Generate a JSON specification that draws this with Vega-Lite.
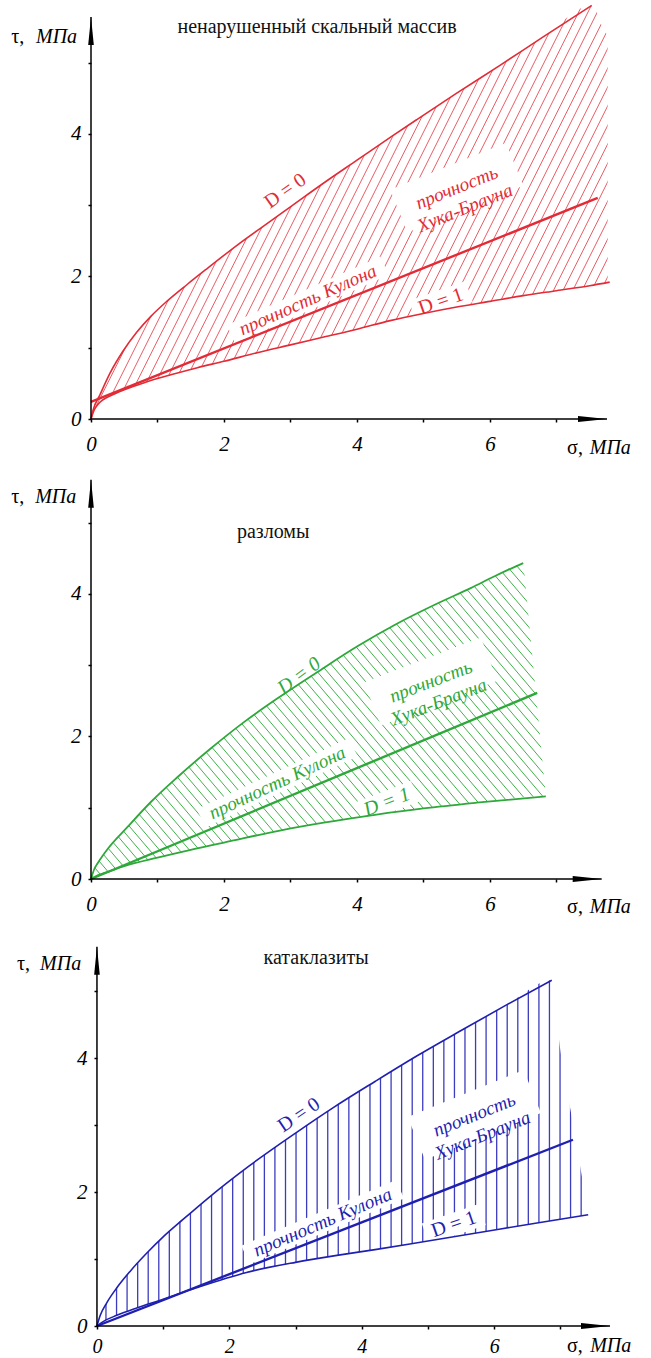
{
"$schema": "https://vega.github.io/schema/vega-lite/v6.json",
"background": "white",
"padding": {"left": 11, "top": 2, "right": 2, "bottom": 0},
"config": {"view": {"stroke": null}},
"bounds": "flush",
"spacing": 66,
"datasets": {
"c1": [
{"c":"D0","x":0,"y":0},{"c":"D0","x":0.03,"y":0.12},{"c":"D0","x":0.135,"y":0.34},{"c":"D0","x":0.29,"y":0.65},{"c":"D0","x":0.48,"y":0.95},{"c":"D0","x":0.69,"y":1.22},{"c":"D0","x":0.9,"y":1.44},{"c":"D0","x":1.14,"y":1.65},{"c":"D0","x":1.45,"y":1.89},{"c":"D0","x":1.76,"y":2.12},{"c":"D0","x":2.2,"y":2.44},{"c":"D0","x":2.6,"y":2.71},{"c":"D0","x":3.02,"y":2.99},{"c":"D0","x":3.5,"y":3.31},{"c":"D0","x":4.0,"y":3.63},{"c":"D0","x":4.5,"y":3.95},{"c":"D0","x":4.9,"y":4.2},{"c":"D0","x":5.5,"y":4.57},{"c":"D0","x":6.15,"y":4.96},{"c":"D0","x":6.8,"y":5.36},{"c":"D0","x":7.53,"y":5.8},
{"c":"T","x":7.77,"y":5.4},{"c":"T","x":7.85,"y":5.4},
{"c":"D1","x":0,"y":0},{"c":"D1","x":0.05,"y":0.13},{"c":"D1","x":0.1,"y":0.2},{"c":"D1","x":0.18,"y":0.27},{"c":"D1","x":0.3,"y":0.33},{"c":"D1","x":0.5,"y":0.41},{"c":"D1","x":0.8,"y":0.51},{"c":"D1","x":1.2,"y":0.62},{"c":"D1","x":1.6,"y":0.72},{"c":"D1","x":2.0,"y":0.81},{"c":"D1","x":2.5,"y":0.93},{"c":"D1","x":3.0,"y":1.04},{"c":"D1","x":3.5,"y":1.15},{"c":"D1","x":4.0,"y":1.26},{"c":"D1","x":4.5,"y":1.38},{"c":"D1","x":5.0,"y":1.48},{"c":"D1","x":5.5,"y":1.57},{"c":"D1","x":6.0,"y":1.65},{"c":"D1","x":6.5,"y":1.73},{"c":"D1","x":7.0,"y":1.8},{"c":"D1","x":7.5,"y":1.87},{"c":"D1","x":7.8,"y":1.92},
{"c":"B","x":7.85,"y":1.93}
],
"c2": [
{"c":"D0","x":0,"y":0},{"c":"D0","x":0.05,"y":0.14},{"c":"D0","x":0.1,"y":0.22},{"c":"D0","x":0.25,"y":0.42},{"c":"D0","x":0.54,"y":0.72},{"c":"D0","x":0.9,"y":1.08},{"c":"D0","x":1.29,"y":1.42},{"c":"D0","x":1.8,"y":1.83},{"c":"D0","x":2.3,"y":2.2},{"c":"D0","x":2.8,"y":2.53},{"c":"D0","x":3.4,"y":2.9},{"c":"D0","x":4.0,"y":3.26},{"c":"D0","x":4.6,"y":3.58},{"c":"D0","x":5.2,"y":3.86},{"c":"D0","x":5.71,"y":4.08},{"c":"D0","x":6.1,"y":4.26},{"c":"D0","x":6.5,"y":4.43},
{"c":"T","x":7.85,"y":4.43},
{"c":"D1","x":0,"y":0},{"c":"D1","x":0.1,"y":0.05},{"c":"D1","x":0.25,"y":0.1},{"c":"D1","x":0.5,"y":0.18},{"c":"D1","x":1.0,"y":0.3},{"c":"D1","x":1.5,"y":0.41},{"c":"D1","x":2.0,"y":0.51},{"c":"D1","x":2.84,"y":0.68},{"c":"D1","x":3.5,"y":0.79},{"c":"D1","x":4.27,"y":0.9},{"c":"D1","x":5.0,"y":0.99},{"c":"D1","x":5.8,"y":1.07},{"c":"D1","x":6.84,"y":1.16},
{"c":"B","x":7.85,"y":1.16}
],
"c3": [
{"c":"D0","x":0,"y":0},{"c":"D0","x":0.05,"y":0.16},{"c":"D0","x":0.15,"y":0.35},{"c":"D0","x":0.3,"y":0.57},{"c":"D0","x":0.5,"y":0.815},{"c":"D0","x":0.75,"y":1.085},{"c":"D0","x":1.0,"y":1.33},{"c":"D0","x":1.3,"y":1.59},{"c":"D0","x":1.68,"y":1.91},{"c":"D0","x":2.3,"y":2.39},{"c":"D0","x":3.0,"y":2.88},{"c":"D0","x":3.57,"y":3.26},{"c":"D0","x":4.2,"y":3.65},{"c":"D0","x":4.83,"y":4.03},{"c":"D0","x":5.5,"y":4.41},{"c":"D0","x":6.2,"y":4.8},{"c":"D0","x":6.87,"y":5.16},
{"c":"T","x":6.995,"y":4.15},{"c":"T","x":7.154,"y":3.22},{"c":"T","x":7.314,"y":2.3},{"c":"T","x":7.5,"y":1.2},{"c":"T","x":7.7,"y":0},{"c":"T","x":7.795,"y":0},
{"c":"D1","x":0,"y":0},{"c":"D1","x":0.1,"y":0.07},{"c":"D1","x":0.3,"y":0.16},{"c":"D1","x":0.6,"y":0.27},{"c":"D1","x":1.0,"y":0.4},{"c":"D1","x":1.5,"y":0.57},{"c":"D1","x":2.26,"y":0.8},{"c":"D1","x":3.0,"y":0.95},{"c":"D1","x":3.6,"y":1.05},{"c":"D1","x":4.2,"y":1.14},{"c":"D1","x":5.0,"y":1.27},{"c":"D1","x":5.8,"y":1.4},{"c":"D1","x":6.6,"y":1.53},{"c":"D1","x":7.42,"y":1.66},
{"c":"B","x":7.795,"y":1.7}
],
"h1": [
{"a":-0.16,"b":2.98},{"a":-0.02,"b":3.12},{"a":0.13,"b":3.26},{"a":0.27,"b":3.40},{"a":0.41,"b":3.55},{"a":0.56,"b":3.69},{"a":0.70,"b":3.83},{"a":0.84,"b":3.98},{"a":0.98,"b":4.12},{"a":1.13,"b":4.26},{"a":1.27,"b":4.41},{"a":1.41,"b":4.55},{"a":1.56,"b":4.69},{"a":1.70,"b":4.83},{"a":1.84,"b":4.98},{"a":1.99,"b":5.12},{"a":2.13,"b":5.26},{"a":2.27,"b":5.41},{"a":2.41,"b":5.55},{"a":2.56,"b":5.69},{"a":2.70,"b":5.84},{"a":2.84,"b":5.98},{"a":2.99,"b":6.12},{"a":3.13,"b":6.26},{"a":3.27,"b":6.41},{"a":3.42,"b":6.55},{"a":3.56,"b":6.69},{"a":3.70,"b":6.84},{"a":3.84,"b":6.98},{"a":3.99,"b":7.12},{"a":4.13,"b":7.27},{"a":4.27,"b":7.41},{"a":4.42,"b":7.55},{"a":4.56,"b":7.69},{"a":4.70,"b":7.84},{"a":4.85,"b":7.98},{"a":4.99,"b":8.12},{"a":5.13,"b":8.27},{"a":5.27,"b":8.41},{"a":5.42,"b":8.55},{"a":5.56,"b":8.70},{"a":5.70,"b":8.84},{"a":5.85,"b":8.98},{"a":5.99,"b":9.12},{"a":6.13,"b":9.27},{"a":6.28,"b":9.41},{"a":6.42,"b":9.55},{"a":6.56,"b":9.70},{"a":6.70,"b":9.84}
],
"h2": [
{"a":0.05,"b":-4.98},{"a":0.2,"b":-4.83},{"a":0.35,"b":-4.68},{"a":0.5,"b":-4.53},{"a":0.65,"b":-4.38},{"a":0.8,"b":-4.23},{"a":0.95,"b":-4.08},{"a":1.1,"b":-3.93},{"a":1.25,"b":-3.78},{"a":1.4,"b":-3.63},{"a":1.55,"b":-3.48},{"a":1.7,"b":-3.33},{"a":1.85,"b":-3.18},{"a":2.0,"b":-3.03},{"a":2.15,"b":-2.88},{"a":2.3,"b":-2.73},{"a":2.45,"b":-2.58},{"a":2.6,"b":-2.43},{"a":2.75,"b":-2.28},{"a":2.9,"b":-2.13},{"a":3.05,"b":-1.98},{"a":3.2,"b":-1.83},{"a":3.35,"b":-1.68},{"a":3.5,"b":-1.53},{"a":3.65,"b":-1.38},{"a":3.8,"b":-1.23},{"a":3.95,"b":-1.08},{"a":4.1,"b":-0.93},{"a":4.25,"b":-0.78},{"a":4.4,"b":-0.63},{"a":4.55,"b":-0.48},{"a":4.7,"b":-0.33},{"a":4.85,"b":-0.18},{"a":5.0,"b":-0.03},{"a":5.15,"b":0.12},{"a":5.3,"b":0.27},{"a":5.45,"b":0.42},{"a":5.6,"b":0.57},{"a":5.75,"b":0.72},{"a":5.9,"b":0.87},{"a":6.05,"b":1.02},{"a":6.2,"b":1.17},{"a":6.35,"b":1.32},{"a":6.5,"b":1.47},{"a":6.65,"b":1.62},{"a":6.8,"b":1.77},{"a":6.95,"b":1.92},{"a":7.1,"b":2.07},{"a":7.25,"b":2.22},{"a":7.4,"b":2.37},{"a":7.55,"b":2.52},{"a":7.7,"b":2.67},{"a":7.85,"b":2.82},{"a":8.0,"b":2.97},{"a":8.15,"b":3.12},{"a":8.3,"b":3.27},{"a":8.45,"b":3.42},{"a":8.6,"b":3.57},{"a":8.75,"b":3.72},{"a":8.9,"b":3.87},{"a":9.05,"b":4.02},{"a":9.2,"b":4.17},{"a":9.35,"b":4.32},{"a":9.5,"b":4.47},{"a":9.65,"b":4.62},{"a":9.8,"b":4.77},{"a":9.95,"b":4.92},{"a":10.1,"b":5.07},{"a":10.25,"b":5.22},{"a":10.4,"b":5.37},{"a":10.55,"b":5.52}
],
"h3": [
{"x":0.136},{"x":0.296},{"x":0.455},{"x":0.615},{"x":0.774},{"x":0.934},{"x":1.093},{"x":1.253},{"x":1.412},{"x":1.572},{"x":1.731},{"x":1.891},{"x":2.05},{"x":2.21},{"x":2.369},{"x":2.529},{"x":2.688},{"x":2.848},{"x":3.007},{"x":3.167},{"x":3.326},{"x":3.486},{"x":3.645},{"x":3.805},{"x":3.964},{"x":4.124},{"x":4.283},{"x":4.443},{"x":4.602},{"x":4.762},{"x":4.921},{"x":5.081},{"x":5.24},{"x":5.4},{"x":5.559},{"x":5.719},{"x":5.878},{"x":6.038},{"x":6.197},{"x":6.357},{"x":6.516},{"x":6.676},{"x":6.835},{"x":6.995},{"x":7.154},{"x":7.314}
]
},
"vconcat": [
{
"width": 522, "height": 417,
"layer": [
{"data": {"name": "h1"}, "mark": {"type": "rule", "clip": true, "color": "#e64a55", "strokeWidth": 0.9},
 "encoding": {"x": {"field": "a", "type": "quantitative", "axis": {"title": null}}, "x2": {"field": "b"}, "y": {"datum": 0, "type": "quantitative", "axis": {"title": null}}, "y2": {"datum": 5.849}}},
{"data": {"name": "c1"}, "transform": [{"filter": "datum.c === 'D0' || datum.c === 'T'"}], "mark": {"type": "area", "color": "white", "opacity": 1, "interpolate": "monotone"},
 "encoding": {"x": {"field": "x", "type": "quantitative", "axis": {"title": null}}, "y": {"field": "y", "type": "quantitative", "axis": {"title": null}}, "y2": {"datum": 5.849}}},
{"data": {"name": "c1"}, "transform": [{"filter": "datum.c === 'D1' || datum.c === 'B'"}], "mark": {"type": "area", "color": "white", "opacity": 1, "interpolate": "monotone"},
 "encoding": {"x": {"field": "x", "type": "quantitative", "axis": {"title": null}}, "y": {"field": "y", "type": "quantitative", "axis": {"title": null}}, "y2": {"datum": 0}}},
{"data": {"values": [{"a": 7.77, "b": 7.85}]}, "mark": {"type": "rect", "color": "white", "opacity": 1},
 "encoding": {"x": {"field": "a", "type": "quantitative", "axis": {"title": null}}, "x2": {"field": "b"}, "y": {"datum": 0, "type": "quantitative", "axis": {"title": null}}, "y2": {"datum": 5.849}}},
{"data": {"values": [{"x": 3.26, "y": 1.67}]}, "mark": {"type": "point", "shape": "M-1,-0.12L1,-0.12L1,0.12L-1,0.12Z", "size": 28224, "angle": -24, "filled": true, "color": "white", "opacity": 1, "strokeWidth": 0},
 "encoding": {"x": {"field": "x", "type": "quantitative", "axis": {"title": null}}, "y": {"field": "y", "type": "quantitative", "axis": {"title": null}}}},
{"data": {"values": [{"x": 5.26, "y": 1.65}]}, "mark": {"type": "point", "shape": "M-1,-0.37L1,-0.37L1,0.37L-1,0.37Z", "size": 3600, "angle": -19, "filled": true, "color": "white", "opacity": 1, "strokeWidth": 0},
 "encoding": {"x": {"field": "x", "type": "quantitative", "axis": {"title": null}}, "y": {"field": "y", "type": "quantitative", "axis": {"title": null}}}},
{"data": {"values": [{"x": 5.5, "y": 3.245}]}, "mark": {"type": "point", "shape": "M-1,-0.37L1,-0.37L1,0.37L-1,0.37Z", "size": 15625, "angle": -22, "filled": true, "color": "white", "opacity": 1, "strokeWidth": 0},
 "encoding": {"x": {"field": "x", "type": "quantitative", "axis": {"title": null}}, "y": {"field": "y", "type": "quantitative", "axis": {"title": null}}}},
{"data": {"name": "c1"}, "transform": [{"filter": "datum.c === 'D0' || datum.c === 'D1'"}], "mark": {"type": "line", "color": "#e22b36", "strokeWidth": 1.6, "interpolate": "monotone"},
 "encoding": {"x": {"field": "x", "type": "quantitative", "axis": {"title": null}}, "y": {"field": "y", "type": "quantitative", "axis": {"title": null}}, "detail": {"field": "c"}}},
{"data": {"values": [{"x": 0, "y": 0.24}, {"x": 7.62, "y": 3.1}]}, "mark": {"type": "line", "color": "#e22b36", "strokeWidth": 2.4},
 "encoding": {"x": {"field": "x", "type": "quantitative", "axis": {"title": null}}, "y": {"field": "y", "type": "quantitative", "axis": {"title": null}}}},
{"data": {"values": [{"x": 0, "y": 0, "x2": 7.76, "y2": 0}, {"x": 0, "y": 0, "x2": 0, "y2": 5.64}]}, "mark": {"type": "rule", "color": "#000", "strokeWidth": 1.5},
 "encoding": {
  "x": {"field": "x", "type": "quantitative", "scale": {"domain": [0, 7.85], "nice": false, "zero": false},
   "axis": {"title": null, "domain": false, "grid": false, "values": [0,1,2,3,4,5,6,7], "format": "d", "labelExpr": "datum.value % 2 === 0 ? datum.label : ''", "tickSize": 3, "tickWidth": 1.5, "tickColor": "#000", "labelFont": "Liberation Serif", "labelFontStyle": "italic", "labelFontSize": 21, "labelColor": "#000", "labelPadding": 11, "labelOverlap": false, "labelFlush": false, "labelBound": false, "zindex": 1}},
  "x2": {"field": "x2"},
  "y": {"field": "y", "type": "quantitative", "scale": {"domain": [0, 5.849], "nice": false, "zero": false},
   "axis": {"title": null, "domain": false, "grid": false, "values": [0,1,2,3,4,5], "format": "d", "labelExpr": "datum.value % 2 === 0 ? datum.label : ''", "tickSize": 3, "tickWidth": 1.5, "tickColor": "#000", "labelFont": "Liberation Serif", "labelFontStyle": "italic", "labelFontSize": 21, "labelColor": "#000", "labelPadding": 7, "labelOverlap": false, "labelFlush": false, "labelBound": false, "zindex": 1}},
  "y2": {"field": "y2"}}},
{"data": {"values": [{"x": 7.76, "y": 0}]}, "mark": {"type": "point", "shape": "M0,0L-2,-0.2L-2,0.2Z", "size": 841, "filled": true, "color": "#000", "opacity": 1, "strokeWidth": 0},
 "encoding": {"x": {"field": "x", "type": "quantitative", "axis": {"title": null}}, "y": {"field": "y", "type": "quantitative", "axis": {"title": null}}}},
{"data": {"values": [{"x": 0, "y": 5.64}]}, "mark": {"type": "point", "shape": "M0,0L-0.2,2L0.2,2Z", "size": 784, "filled": true, "color": "#000", "opacity": 1, "strokeWidth": 0},
 "encoding": {"x": {"field": "x", "type": "quantitative", "axis": {"title": null}}, "y": {"field": "y", "type": "quantitative", "axis": {"title": null}}}},
{"data": {"values": [{"x": 3.4, "y": 5.5, "t": "ненарушенный скальный массив"}]}, "mark": {"type": "text", "font": "Liberation Serif", "fontSize": 20, "color": "#111", "align": "center", "baseline": "middle"},
 "encoding": {"x": {"field": "x", "type": "quantitative", "axis": {"title": null}}, "y": {"field": "y", "type": "quantitative", "axis": {"title": null}}, "text": {"field": "t", "type": "nominal"}}},
{"data": {"values": [{"x": -1.2, "y": 5.27, "t": "τ,"}, {"x": 7.16, "y": -0.49, "t": "σ,"}]}, "mark": {"type": "text", "font": "Liberation Serif", "fontSize": 20, "color": "#000", "align": "left", "baseline": "alphabetic"},
 "encoding": {"x": {"field": "x", "type": "quantitative", "axis": {"title": null}}, "y": {"field": "y", "type": "quantitative", "axis": {"title": null}}, "text": {"field": "t", "type": "nominal"}}},
{"data": {"values": [{"x": -0.827, "y": 5.27, "t": "МПа"}, {"x": 7.5, "y": -0.49, "t": "МПа"}]}, "mark": {"type": "text", "font": "Liberation Serif", "fontSize": 20, "fontStyle": "italic", "color": "#000", "align": "left", "baseline": "alphabetic"},
 "encoding": {"x": {"field": "x", "type": "quantitative", "axis": {"title": null}}, "y": {"field": "y", "type": "quantitative", "axis": {"title": null}}, "text": {"field": "t", "type": "nominal"}}},
{"data": {"values": [{"x": 2.92, "y": 3.2, "t": "D = 0"}]}, "mark": {"type": "text", "font": "Liberation Serif", "fontSize": 20, "color": "#e22b36", "align": "center", "baseline": "middle", "angle": -35},
 "encoding": {"x": {"field": "x", "type": "quantitative", "axis": {"title": null}}, "y": {"field": "y", "type": "quantitative", "axis": {"title": null}}, "text": {"field": "t", "type": "nominal"}}},
{"data": {"values": [{"x": 3.26, "y": 1.67, "t": "прочность Кулона"}]}, "mark": {"type": "text", "font": "Liberation Serif", "fontSize": 19, "fontStyle": "italic", "color": "#e22b36", "align": "center", "baseline": "middle", "angle": -24},
 "encoding": {"x": {"field": "x", "type": "quantitative", "axis": {"title": null}}, "y": {"field": "y", "type": "quantitative", "axis": {"title": null}}, "text": {"field": "t", "type": "nominal"}}},
{"data": {"values": [{"x": 5.26, "y": 1.65, "t": "D = 1"}]}, "mark": {"type": "text", "font": "Liberation Serif", "fontSize": 20, "color": "#e22b36", "align": "center", "baseline": "middle", "angle": -19},
 "encoding": {"x": {"field": "x", "type": "quantitative", "axis": {"title": null}}, "y": {"field": "y", "type": "quantitative", "axis": {"title": null}}, "text": {"field": "t", "type": "nominal"}}},
{"data": {"values": [{"x": 5.5, "y": 3.245, "t": "прочность\nХука-Брауна"}]}, "mark": {"type": "text", "font": "Liberation Serif", "fontSize": 19, "fontStyle": "italic", "color": "#e22b36", "align": "center", "baseline": "middle", "angle": -22, "lineBreak": "\n", "lineHeight": 22},
 "encoding": {"x": {"field": "x", "type": "quantitative", "axis": {"title": null}}, "y": {"field": "y", "type": "quantitative", "axis": {"title": null}}, "text": {"field": "t", "type": "nominal"}}}
]
},
{
"width": 522, "height": 394,
"layer": [
{"data": {"name": "h2"}, "mark": {"type": "rule", "clip": true, "color": "#43b04c", "strokeWidth": 1},
 "encoding": {"x": {"field": "a", "type": "quantitative", "axis": {"title": null}}, "x2": {"field": "b"}, "y": {"datum": 0, "type": "quantitative", "axis": {"title": null}}, "y2": {"datum": 5.526}}},
{"data": {"name": "c2"}, "transform": [{"filter": "datum.c === 'D0' || datum.c === 'T'"}], "mark": {"type": "area", "color": "white", "opacity": 1, "interpolate": "monotone"},
 "encoding": {"x": {"field": "x", "type": "quantitative", "axis": {"title": null}}, "y": {"field": "y", "type": "quantitative", "axis": {"title": null}}, "y2": {"datum": 5.526}}},
{"data": {"name": "c2"}, "transform": [{"filter": "datum.c === 'D1' || datum.c === 'B'"}], "mark": {"type": "area", "color": "white", "opacity": 1, "interpolate": "monotone"},
 "encoding": {"x": {"field": "x", "type": "quantitative", "axis": {"title": null}}, "y": {"field": "y", "type": "quantitative", "axis": {"title": null}}, "y2": {"datum": 0}}},
{"data": {"values": [{"y": 0, "x": 6.96}, {"y": 5.526, "x": 6.39}]}, "mark": {"type": "area", "orient": "horizontal", "color": "white", "opacity": 1},
 "encoding": {"y": {"field": "y", "type": "quantitative", "axis": {"title": null}}, "x": {"field": "x", "type": "quantitative", "axis": {"title": null}}, "x2": {"datum": 7.85}}},
{"data": {"values": [{"x": 2.8, "y": 1.35}]}, "mark": {"type": "point", "shape": "M-1,-0.12L1,-0.12L1,0.12L-1,0.12Z", "size": 28224, "angle": -25, "filled": true, "color": "white", "opacity": 1, "strokeWidth": 0},
 "encoding": {"x": {"field": "x", "type": "quantitative", "axis": {"title": null}}, "y": {"field": "y", "type": "quantitative", "axis": {"title": null}}}},
{"data": {"values": [{"x": 4.45, "y": 1.08}]}, "mark": {"type": "point", "shape": "M-1,-0.37L1,-0.37L1,0.37L-1,0.37Z", "size": 3600, "angle": -21, "filled": true, "color": "white", "opacity": 1, "strokeWidth": 0},
 "encoding": {"x": {"field": "x", "type": "quantitative", "axis": {"title": null}}, "y": {"field": "y", "type": "quantitative", "axis": {"title": null}}}},
{"data": {"values": [{"x": 5.11, "y": 2.77}]}, "mark": {"type": "point", "shape": "M-1,-0.37L1,-0.37L1,0.37L-1,0.37Z", "size": 15625, "angle": -21, "filled": true, "color": "white", "opacity": 1, "strokeWidth": 0},
 "encoding": {"x": {"field": "x", "type": "quantitative", "axis": {"title": null}}, "y": {"field": "y", "type": "quantitative", "axis": {"title": null}}}},
{"data": {"name": "c2"}, "transform": [{"filter": "datum.c === 'D0' || datum.c === 'D1'"}], "mark": {"type": "line", "color": "#2ea83a", "strokeWidth": 1.8, "interpolate": "monotone"},
 "encoding": {"x": {"field": "x", "type": "quantitative", "axis": {"title": null}}, "y": {"field": "y", "type": "quantitative", "axis": {"title": null}}, "detail": {"field": "c"}}},
{"data": {"values": [{"x": 0, "y": 0}, {"x": 6.71, "y": 2.61}]}, "mark": {"type": "line", "color": "#2ea83a", "strokeWidth": 2.4},
 "encoding": {"x": {"field": "x", "type": "quantitative", "axis": {"title": null}}, "y": {"field": "y", "type": "quantitative", "axis": {"title": null}}}},
{"data": {"values": [{"x": 0, "y": 0, "x2": 7.68, "y2": 0}, {"x": 0, "y": 0, "x2": 0, "y2": 5.6}]}, "mark": {"type": "rule", "color": "#000", "strokeWidth": 1.5},
 "encoding": {
  "x": {"field": "x", "type": "quantitative", "scale": {"domain": [0, 7.85], "nice": false, "zero": false},
   "axis": {"title": null, "domain": false, "grid": false, "values": [0,1,2,3,4,5,6,7], "format": "d", "labelExpr": "datum.value % 2 === 0 ? datum.label : ''", "tickSize": 3, "tickWidth": 1.5, "tickColor": "#000", "labelFont": "Liberation Serif", "labelFontStyle": "italic", "labelFontSize": 21, "labelColor": "#000", "labelPadding": 11, "labelOverlap": false, "labelFlush": false, "labelBound": false, "zindex": 1}},
  "x2": {"field": "x2"},
  "y": {"field": "y", "type": "quantitative", "scale": {"domain": [0, 5.526], "nice": false, "zero": false},
   "axis": {"title": null, "domain": false, "grid": false, "values": [0,1,2,3,4,5], "format": "d", "labelExpr": "datum.value % 2 === 0 ? datum.label : ''", "tickSize": 3, "tickWidth": 1.5, "tickColor": "#000", "labelFont": "Liberation Serif", "labelFontStyle": "italic", "labelFontSize": 21, "labelColor": "#000", "labelPadding": 7, "labelOverlap": false, "labelFlush": false, "labelBound": false, "zindex": 1}},
  "y2": {"field": "y2"}}},
{"data": {"values": [{"x": 7.68, "y": 0}]}, "mark": {"type": "point", "shape": "M0,0L-2,-0.2L-2,0.2Z", "size": 841, "filled": true, "color": "#000", "opacity": 1, "strokeWidth": 0},
 "encoding": {"x": {"field": "x", "type": "quantitative", "axis": {"title": null}}, "y": {"field": "y", "type": "quantitative", "axis": {"title": null}}}},
{"data": {"values": [{"x": 0, "y": 5.6}]}, "mark": {"type": "point", "shape": "M0,0L-0.2,2L0.2,2Z", "size": 784, "filled": true, "color": "#000", "opacity": 1, "strokeWidth": 0},
 "encoding": {"x": {"field": "x", "type": "quantitative", "axis": {"title": null}}, "y": {"field": "y", "type": "quantitative", "axis": {"title": null}}}},
{"data": {"values": [{"x": 2.74, "y": 4.87, "t": "разломы"}]}, "mark": {"type": "text", "font": "Liberation Serif", "fontSize": 20, "color": "#111", "align": "center", "baseline": "middle"},
 "encoding": {"x": {"field": "x", "type": "quantitative", "axis": {"title": null}}, "y": {"field": "y", "type": "quantitative", "axis": {"title": null}}, "text": {"field": "t", "type": "nominal"}}},
{"data": {"values": [{"x": -1.2, "y": 5.27, "t": "τ,"}, {"x": 7.16, "y": -0.48, "t": "σ,"}]}, "mark": {"type": "text", "font": "Liberation Serif", "fontSize": 20, "color": "#000", "align": "left", "baseline": "alphabetic"},
 "encoding": {"x": {"field": "x", "type": "quantitative", "axis": {"title": null}}, "y": {"field": "y", "type": "quantitative", "axis": {"title": null}}, "text": {"field": "t", "type": "nominal"}}},
{"data": {"values": [{"x": -0.84, "y": 5.27, "t": "МПа"}, {"x": 7.5, "y": -0.48, "t": "МПа"}]}, "mark": {"type": "text", "font": "Liberation Serif", "fontSize": 20, "fontStyle": "italic", "color": "#000", "align": "left", "baseline": "alphabetic"},
 "encoding": {"x": {"field": "x", "type": "quantitative", "axis": {"title": null}}, "y": {"field": "y", "type": "quantitative", "axis": {"title": null}}, "text": {"field": "t", "type": "nominal"}}},
{"data": {"values": [{"x": 3.13, "y": 2.85, "t": "D = 0"}]}, "mark": {"type": "text", "font": "Liberation Serif", "fontSize": 20, "fontStyle": "italic", "color": "#2ea83a", "align": "center", "baseline": "middle", "angle": -37},
 "encoding": {"x": {"field": "x", "type": "quantitative", "axis": {"title": null}}, "y": {"field": "y", "type": "quantitative", "axis": {"title": null}}, "text": {"field": "t", "type": "nominal"}}},
{"data": {"values": [{"x": 2.8, "y": 1.35, "t": "прочность Кулона"}]}, "mark": {"type": "text", "font": "Liberation Serif", "fontSize": 19, "fontStyle": "italic", "color": "#2ea83a", "align": "center", "baseline": "middle", "angle": -25},
 "encoding": {"x": {"field": "x", "type": "quantitative", "axis": {"title": null}}, "y": {"field": "y", "type": "quantitative", "axis": {"title": null}}, "text": {"field": "t", "type": "nominal"}}},
{"data": {"values": [{"x": 4.45, "y": 1.08, "t": "D = 1"}]}, "mark": {"type": "text", "font": "Liberation Serif", "fontSize": 20, "fontStyle": "italic", "color": "#2ea83a", "align": "center", "baseline": "middle", "angle": -21},
 "encoding": {"x": {"field": "x", "type": "quantitative", "axis": {"title": null}}, "y": {"field": "y", "type": "quantitative", "axis": {"title": null}}, "text": {"field": "t", "type": "nominal"}}},
{"data": {"values": [{"x": 5.11, "y": 2.77, "t": "прочность\nХука-Брауна"}]}, "mark": {"type": "text", "font": "Liberation Serif", "fontSize": 19, "fontStyle": "italic", "color": "#2ea83a", "align": "center", "baseline": "middle", "angle": -21, "lineBreak": "\n", "lineHeight": 22},
 "encoding": {"x": {"field": "x", "type": "quantitative", "axis": {"title": null}}, "y": {"field": "y", "type": "quantitative", "axis": {"title": null}}, "text": {"field": "t", "type": "nominal"}}}
]
},
{
"width": 522, "height": 381,
"layer": [
{"data": {"name": "h3"}, "mark": {"type": "rule", "clip": true, "color": "#3c3cbe", "strokeWidth": 1.3},
 "encoding": {"x": {"field": "x", "type": "quantitative", "axis": {"title": null}}}},
{"data": {"name": "c3"}, "transform": [{"filter": "datum.c === 'D0' || datum.c === 'T'"}], "mark": {"type": "area", "color": "white", "opacity": 1, "interpolate": "monotone"},
 "encoding": {"x": {"field": "x", "type": "quantitative", "axis": {"title": null}}, "y": {"field": "y", "type": "quantitative", "axis": {"title": null}}, "y2": {"datum": 5.687}}},
{"data": {"name": "c3"}, "transform": [{"filter": "datum.c === 'D1' || datum.c === 'B'"}], "mark": {"type": "area", "color": "white", "opacity": 1, "interpolate": "monotone"},
 "encoding": {"x": {"field": "x", "type": "quantitative", "axis": {"title": null}}, "y": {"field": "y", "type": "quantitative", "axis": {"title": null}}, "y2": {"datum": 0}}},
{"data": {"values": [{"x": 3.41, "y": 1.55}]}, "mark": {"type": "point", "shape": "M-1,-0.12L1,-0.12L1,0.12L-1,0.12Z", "size": 28224, "angle": -23, "filled": true, "color": "white", "opacity": 1, "strokeWidth": 0},
 "encoding": {"x": {"field": "x", "type": "quantitative", "axis": {"title": null}}, "y": {"field": "y", "type": "quantitative", "axis": {"title": null}}}},
{"data": {"values": [{"x": 5.39, "y": 1.52}]}, "mark": {"type": "point", "shape": "M-1,-0.37L1,-0.37L1,0.37L-1,0.37Z", "size": 3600, "angle": -19, "filled": true, "color": "white", "opacity": 1, "strokeWidth": 0},
 "encoding": {"x": {"field": "x", "type": "quantitative", "axis": {"title": null}}, "y": {"field": "y", "type": "quantitative", "axis": {"title": null}}}},
{"data": {"values": [{"x": 5.7, "y": 3.15}]}, "mark": {"type": "point", "shape": "M-1,-0.37L1,-0.37L1,0.37L-1,0.37Z", "size": 15625, "angle": -22, "filled": true, "color": "white", "opacity": 1, "strokeWidth": 0},
 "encoding": {"x": {"field": "x", "type": "quantitative", "axis": {"title": null}}, "y": {"field": "y", "type": "quantitative", "axis": {"title": null}}}},
{"data": {"name": "c3"}, "transform": [{"filter": "datum.c === 'D0' || datum.c === 'D1'"}], "mark": {"type": "line", "color": "#1f1fb0", "strokeWidth": 1.6, "interpolate": "monotone"},
 "encoding": {"x": {"field": "x", "type": "quantitative", "axis": {"title": null}}, "y": {"field": "y", "type": "quantitative", "axis": {"title": null}}, "detail": {"field": "c"}}},
{"data": {"values": [{"x": 0, "y": 0}, {"x": 7.19, "y": 2.78}]}, "mark": {"type": "line", "color": "#1f1fb0", "strokeWidth": 2.4},
 "encoding": {"x": {"field": "x", "type": "quantitative", "axis": {"title": null}}, "y": {"field": "y", "type": "quantitative", "axis": {"title": null}}}},
{"data": {"values": [{"x": 0, "y": 0, "x2": 7.75, "y2": 0}, {"x": 0, "y": 0, "x2": 0, "y2": 5.66}]}, "mark": {"type": "rule", "color": "#000", "strokeWidth": 1.5},
 "encoding": {
  "x": {"field": "x", "type": "quantitative", "scale": {"domain": [-0.09, 7.795], "nice": false, "zero": false},
   "axis": {"title": null, "domain": false, "grid": false, "values": [0,1,2,3,4,5,6,7], "format": "d", "labelExpr": "datum.value % 2 === 0 ? datum.label : ''", "tickSize": 3, "tickWidth": 1.5, "tickColor": "#000", "labelFont": "Liberation Serif", "labelFontStyle": "italic", "labelFontSize": 20, "labelColor": "#000", "labelPadding": 7, "labelOverlap": false, "labelFlush": false, "labelBound": false, "zindex": 1}},
  "x2": {"field": "x2"},
  "y": {"field": "y", "type": "quantitative", "scale": {"domain": [0, 5.687], "nice": false, "zero": false},
   "axis": {"title": null, "domain": false, "grid": false, "offset": -6, "values": [0,1,2,3,4,5], "format": "d", "labelExpr": "datum.value % 2 === 0 ? datum.label : ''", "tickSize": 3, "tickWidth": 1.5, "tickColor": "#000", "labelFont": "Liberation Serif", "labelFontStyle": "italic", "labelFontSize": 21, "labelColor": "#000", "labelPadding": 7, "labelOverlap": false, "labelFlush": false, "labelBound": false, "zindex": 1}},
  "y2": {"field": "y2"}}},
{"data": {"values": [{"x": 7.75, "y": 0}]}, "mark": {"type": "point", "shape": "M0,0L-2,-0.2L-2,0.2Z", "size": 841, "filled": true, "color": "#000", "opacity": 1, "strokeWidth": 0},
 "encoding": {"x": {"field": "x", "type": "quantitative", "axis": {"title": null}}, "y": {"field": "y", "type": "quantitative", "axis": {"title": null}}}},
{"data": {"values": [{"x": 0, "y": 5.66}]}, "mark": {"type": "point", "shape": "M0,0L-0.2,2L0.2,2Z", "size": 784, "filled": true, "color": "#000", "opacity": 1, "strokeWidth": 0},
 "encoding": {"x": {"field": "x", "type": "quantitative", "axis": {"title": null}}, "y": {"field": "y", "type": "quantitative", "axis": {"title": null}}}},
{"data": {"values": [{"x": 3.31, "y": 5.49, "t": "катаклазиты"}]}, "mark": {"type": "text", "font": "Liberation Serif", "fontSize": 20, "color": "#111", "align": "center", "baseline": "middle"},
 "encoding": {"x": {"field": "x", "type": "quantitative", "axis": {"title": null}}, "y": {"field": "y", "type": "quantitative", "axis": {"title": null}}, "text": {"field": "t", "type": "nominal"}}},
{"data": {"values": [{"x": -1.208, "y": 5.31, "t": "τ,"}, {"x": 7.1, "y": -0.39, "t": "σ,"}]}, "mark": {"type": "text", "font": "Liberation Serif", "fontSize": 20, "color": "#000", "align": "left", "baseline": "alphabetic"},
 "encoding": {"x": {"field": "x", "type": "quantitative", "axis": {"title": null}}, "y": {"field": "y", "type": "quantitative", "axis": {"title": null}}, "text": {"field": "t", "type": "nominal"}}},
{"data": {"values": [{"x": -0.86, "y": 5.31, "t": "МПа"}, {"x": 7.45, "y": -0.39, "t": "МПа"}]}, "mark": {"type": "text", "font": "Liberation Serif", "fontSize": 20, "fontStyle": "italic", "color": "#000", "align": "left", "baseline": "alphabetic"},
 "encoding": {"x": {"field": "x", "type": "quantitative", "axis": {"title": null}}, "y": {"field": "y", "type": "quantitative", "axis": {"title": null}}, "text": {"field": "t", "type": "nominal"}}},
{"data": {"values": [{"x": 3.05, "y": 3.15, "t": "D = 0"}]}, "mark": {"type": "text", "font": "Liberation Serif", "fontSize": 20, "color": "#1f1fb0", "align": "center", "baseline": "middle", "angle": -34},
 "encoding": {"x": {"field": "x", "type": "quantitative", "axis": {"title": null}}, "y": {"field": "y", "type": "quantitative", "axis": {"title": null}}, "text": {"field": "t", "type": "nominal"}}},
{"data": {"values": [{"x": 3.41, "y": 1.55, "t": "прочность Кулона"}]}, "mark": {"type": "text", "font": "Liberation Serif", "fontSize": 19, "fontStyle": "italic", "color": "#1f1fb0", "align": "center", "baseline": "middle", "angle": -23},
 "encoding": {"x": {"field": "x", "type": "quantitative", "axis": {"title": null}}, "y": {"field": "y", "type": "quantitative", "axis": {"title": null}}, "text": {"field": "t", "type": "nominal"}}},
{"data": {"values": [{"x": 5.39, "y": 1.52, "t": "D = 1"}]}, "mark": {"type": "text", "font": "Liberation Serif", "fontSize": 20, "color": "#1f1fb0", "align": "center", "baseline": "middle", "angle": -19},
 "encoding": {"x": {"field": "x", "type": "quantitative", "axis": {"title": null}}, "y": {"field": "y", "type": "quantitative", "axis": {"title": null}}, "text": {"field": "t", "type": "nominal"}}},
{"data": {"values": [{"x": 5.7, "y": 3.15, "t": "прочность\nХука-Брауна"}]}, "mark": {"type": "text", "font": "Liberation Serif", "fontSize": 19, "fontStyle": "italic", "color": "#1f1fb0", "align": "center", "baseline": "middle", "angle": -22, "lineBreak": "\n", "lineHeight": 22},
 "encoding": {"x": {"field": "x", "type": "quantitative", "axis": {"title": null}}, "y": {"field": "y", "type": "quantitative", "axis": {"title": null}}, "text": {"field": "t", "type": "nominal"}}}
]
}
]
}
